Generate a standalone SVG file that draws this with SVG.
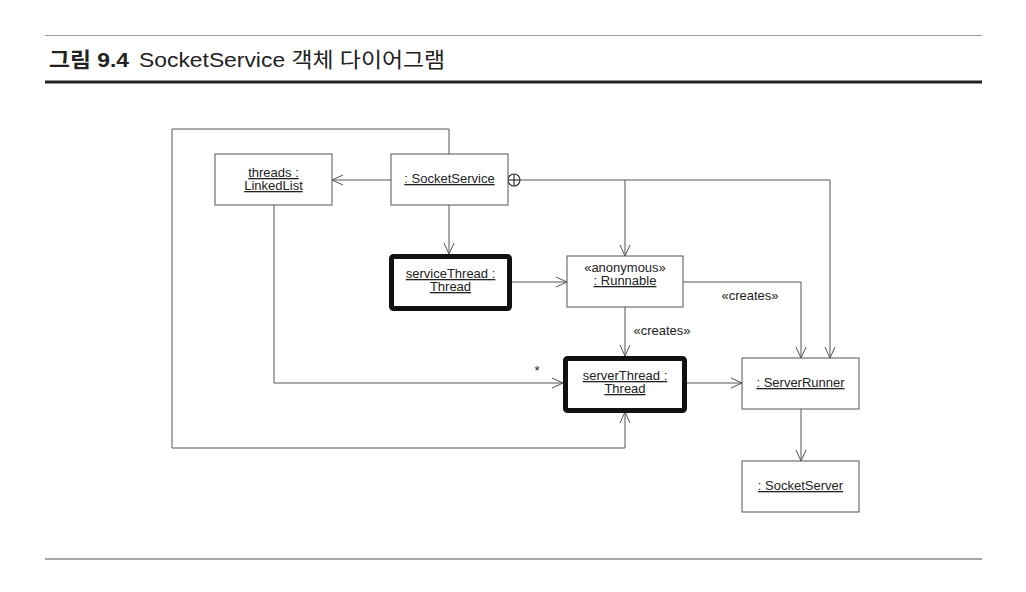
<svg xmlns="http://www.w3.org/2000/svg" width="1026" height="592" viewBox="0 0 1026 592">
<style>
.box{fill:#fff;stroke:#555;stroke-width:1}
.thick{fill:#fff;stroke:#111;stroke-width:5}
.t{font-family:"Liberation Sans",Arial,sans-serif;font-size:13px;fill:#222;text-anchor:middle}
.u{text-decoration:underline}
.c{fill:none;stroke:#555;stroke-width:1}
.ar{marker-end:url(#arr)}
.h{font-family:"Liberation Sans","Noto Sans CJK KR",sans-serif;font-size:21px;fill:#222}
</style>
<defs>
<marker id="arr" markerUnits="userSpaceOnUse" markerWidth="12" markerHeight="12" refX="11" refY="5" orient="auto" overflow="visible">
<path d="M0,0 L11,5 L0,10" fill="none" stroke="#555" stroke-width="1"/>
</marker>
</defs>
<rect width="1026" height="592" fill="#fff"/>
<line x1="45" y1="35.5" x2="982" y2="35.5" stroke="#999" stroke-width="1.2"/>
<text class="h" x="49" y="67" font-weight="bold" textLength="80" lengthAdjust="spacingAndGlyphs">그림 9.4</text>
<text class="h" x="139" y="67" textLength="306" lengthAdjust="spacingAndGlyphs">SocketService 객체 다이어그램</text>
<line x1="45" y1="82" x2="982" y2="82" stroke="#222" stroke-width="3"/>
<line x1="45" y1="559" x2="982" y2="559" stroke="#888" stroke-width="1.5"/>

<g id="connectors">
<polyline class="c ar" points="449,154 449,129 172,129 172,448 625,448 625,412"/>
<line class="c ar" x1="391" y1="180" x2="332" y2="180"/>
<polyline class="c ar" points="274,205 274,383 563,383"/>
<line class="c ar" x1="449" y1="205" x2="449" y2="254"/>
<polyline class="c ar" points="520,180 830,180 830,358"/>
<line class="c ar" x1="625" y1="180" x2="625" y2="256"/>
<line class="c ar" x1="512" y1="282" x2="567" y2="282"/>
<polyline class="c ar" points="683,282 801,282 801,358"/>
<line class="c ar" x1="625" y1="307" x2="625" y2="356"/>
<line class="c ar" x1="687" y1="383" x2="742" y2="383"/>
<line class="c ar" x1="801" y1="409" x2="801" y2="461"/>
<circle cx="514" cy="180" r="6" fill="#fff" stroke="#333" stroke-width="1.2"/>
<line x1="508" y1="180" x2="520" y2="180" stroke="#333" stroke-width="1.2"/>
<line x1="514" y1="174" x2="514" y2="186" stroke="#333" stroke-width="1.2"/>
<text class="t" x="750" y="300">«creates»</text>
<text class="t" x="662" y="335">«creates»</text>
<text class="t" x="537" y="375">*</text>
</g>

<g id="linkedlist">
<rect class="box" x="215" y="154" width="117" height="51"/>
<text class="t u" x="273.5" y="177">threads :</text>
<text class="t u" x="273.5" y="190">LinkedList</text>
</g>
<g id="socketservice">
<rect class="box" x="391" y="154" width="117" height="51"/>
<text class="t u" x="449.5" y="183">: SocketService</text>
</g>
<g id="servicethread">
<rect class="thick" x="391.5" y="256.5" width="118" height="52" rx="2"/>
<text class="t u" x="450.5" y="278">serviceThread :</text>
<text class="t u" x="450.5" y="291">Thread</text>
</g>
<g id="runnable">
<rect class="box" x="567" y="256" width="116" height="51"/>
<text class="t" x="625" y="272">«anonymous»</text>
<text class="t u" x="625" y="285">: Runnable</text>
</g>
<g id="serverthread">
<rect class="thick" x="565.5" y="358.5" width="119" height="52" rx="2"/>
<text class="t u" x="625" y="380">serverThread :</text>
<text class="t u" x="625" y="393">Thread</text>
</g>
<g id="serverrunner">
<rect class="box" x="742" y="358" width="117" height="51"/>
<text class="t u" x="800.5" y="387">: ServerRunner</text>
</g>
<g id="socketserver">
<rect class="box" x="742" y="461" width="117" height="51"/>
<text class="t u" x="800.5" y="490">: SocketServer</text>
</g>
</svg>
